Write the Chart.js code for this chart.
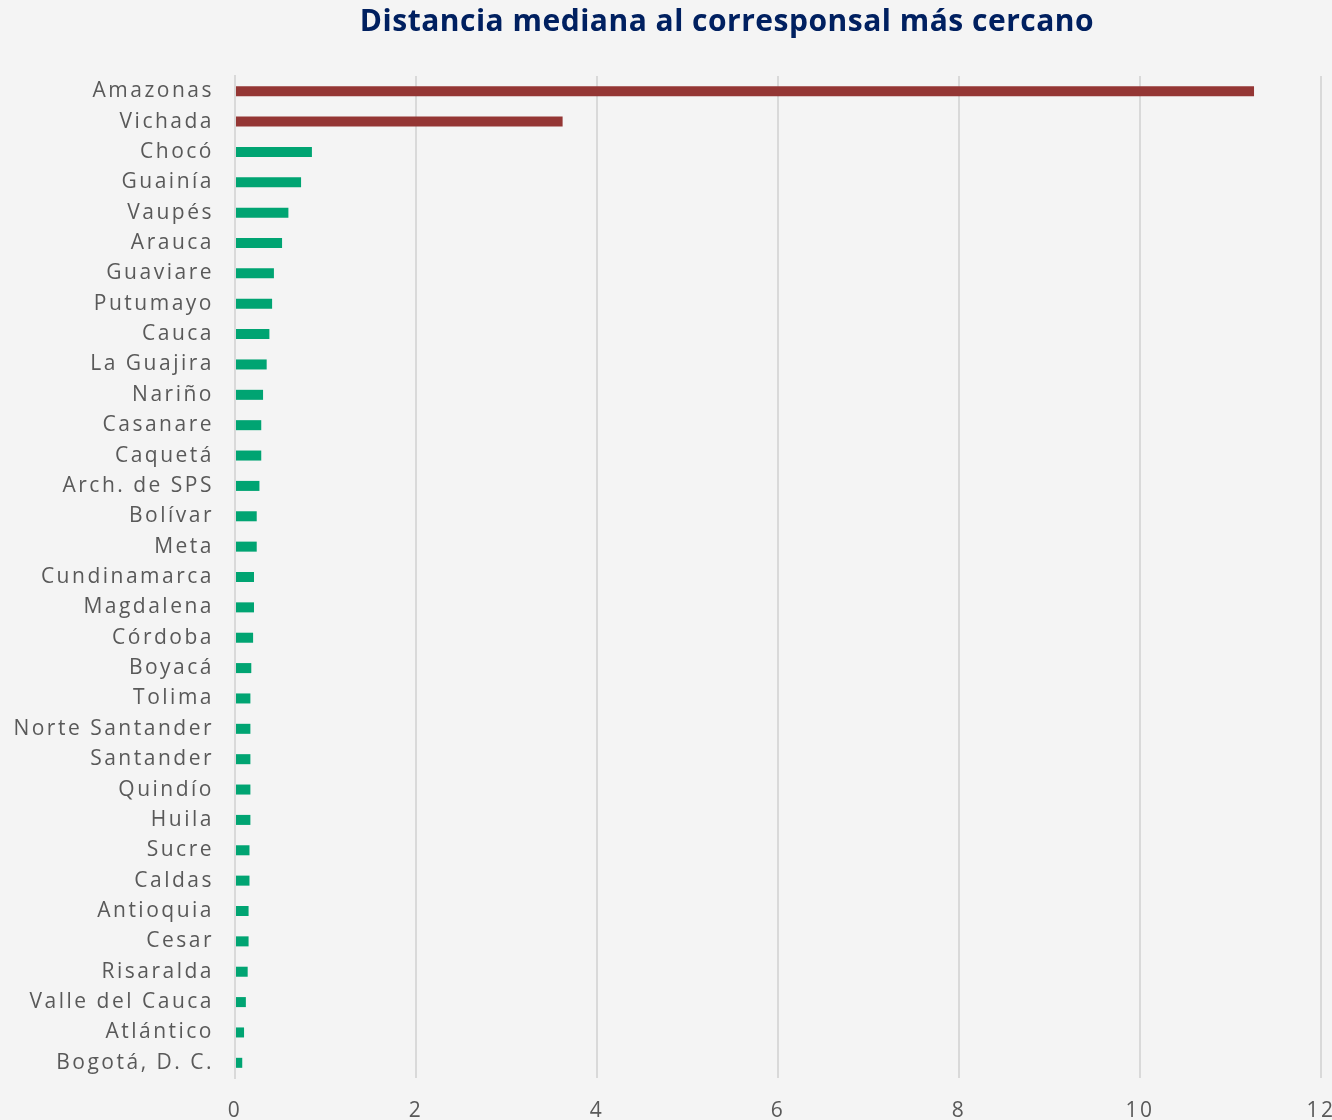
<!DOCTYPE html>
<html lang="es">
<head>
<meta charset="utf-8">
<title>Distancia mediana al corresponsal más cercano</title>
<script src="https://cdn.jsdelivr.net/npm/chart.js@4.4.1/dist/chart.umd.min.js"></script>
<style>
    html, body { margin: 0; padding: 0; background: #f4f4f4; }
    #wrap { width: 1332px; height: 1120px; }
</style>
</head>
<body>
<div id="wrap"><canvas id="distChart" width="1332" height="1120"></canvas></div>
<script>
const titulo = 'Distancia mediana al corresponsal más cercano';

const departamentos = [
    'Amazonas', 'Vichada', 'Chocó', 'Guainía', 'Vaupés', 'Arauca', 'Guaviare',
    'Putumayo', 'Cauca', 'La Guajira', 'Nariño', 'Casanare', 'Caquetá',
    'Arch. de SPS', 'Bolívar', 'Meta', 'Cundinamarca', 'Magdalena', 'Córdoba',
    'Boyacá', 'Tolima', 'Norte Santander', 'Santander', 'Quindío', 'Huila',
    'Sucre', 'Caldas', 'Antioquia', 'Cesar', 'Risaralda', 'Valle del Cauca',
    'Atlántico', 'Bogotá, D. C.'
];

const distancias = [
    11.26, 3.62, 0.85, 0.73, 0.59, 0.52, 0.43,
    0.41, 0.38, 0.35, 0.31, 0.29, 0.29,
    0.27, 0.24, 0.24, 0.21, 0.21, 0.20,
    0.18, 0.17, 0.17, 0.17, 0.17, 0.17,
    0.16, 0.16, 0.15, 0.15, 0.14, 0.12,
    0.10, 0.08
];

// los dos departamentos más alejados van en rojo
const colorAlto = '#943634';
const colorBase = '#00a472';
const colores = distancias.map(v => v > 1 ? colorAlto : colorBase);

const fondoPlugin = {
    id: 'fondo',
    beforeDraw(chart) {
        const ctx = chart.ctx;
        ctx.save();
        ctx.fillStyle = '#f4f4f4';
        ctx.fillRect(0, 0, chart.width, chart.height);
        ctx.restore();
        // etiquetas más espaciadas
        ctx.letterSpacing = '2.5px';
    },
    afterDraw(chart) {
        const ctx = chart.ctx;
        ctx.save();
        ctx.letterSpacing = '0.5px';
        ctx.fillStyle = '#002060';
        ctx.font = 'bold 30px "Open Sans"';
        ctx.textAlign = 'center';
        ctx.textBaseline = 'middle';
        ctx.fillText(titulo, 727, 22);
        ctx.restore();
    }
};

const ctx = document.getElementById('distChart').getContext('2d');
new Chart(ctx, {
    type: 'bar',
    data: {
        labels: departamentos,
        datasets: [{
            data: distancias,
            backgroundColor: colores,
            borderWidth: 0,
            barPercentage: 0.33,
            categoryPercentage: 1
        }]
    },
    options: {
        indexAxis: 'y',
        responsive: false,
        animation: false,
        layout: {
            padding: { top: 76, left: 0, right: 0, bottom: 0 }
        },
        plugins: {
            legend: { display: false },
            tooltip: { enabled: false }
        },
        scales: {
            x: {
                min: 0,
                max: 12,
                ticks: {
                    stepSize: 2,
                    padding: 20,
                    color: '#595959',
                    font: { family: 'Open Sans', size: 21 }
                },
                grid: {
                    color: '#d9d9d9',
                    lineWidth: 2,
                    drawTicks: false
                },
                border: { display: false },
                afterFit(scale) {
                    scale.height = 42;
                    scale.paddingRight = 11;
                }
            },
            y: {
                ticks: {
                    padding: 21,
                    color: '#595959',
                    font: { family: 'Open Sans', size: 21 },
                    autoSkip: false
                },
                grid: { display: false, drawTicks: false },
                border: { display: true, color: '#d9d9d9', width: 2 },
                afterFit(scale) { scale.width = 235; }
            }
        }
    },
    plugins: [fondoPlugin]
});
</script>
</body>
</html>
